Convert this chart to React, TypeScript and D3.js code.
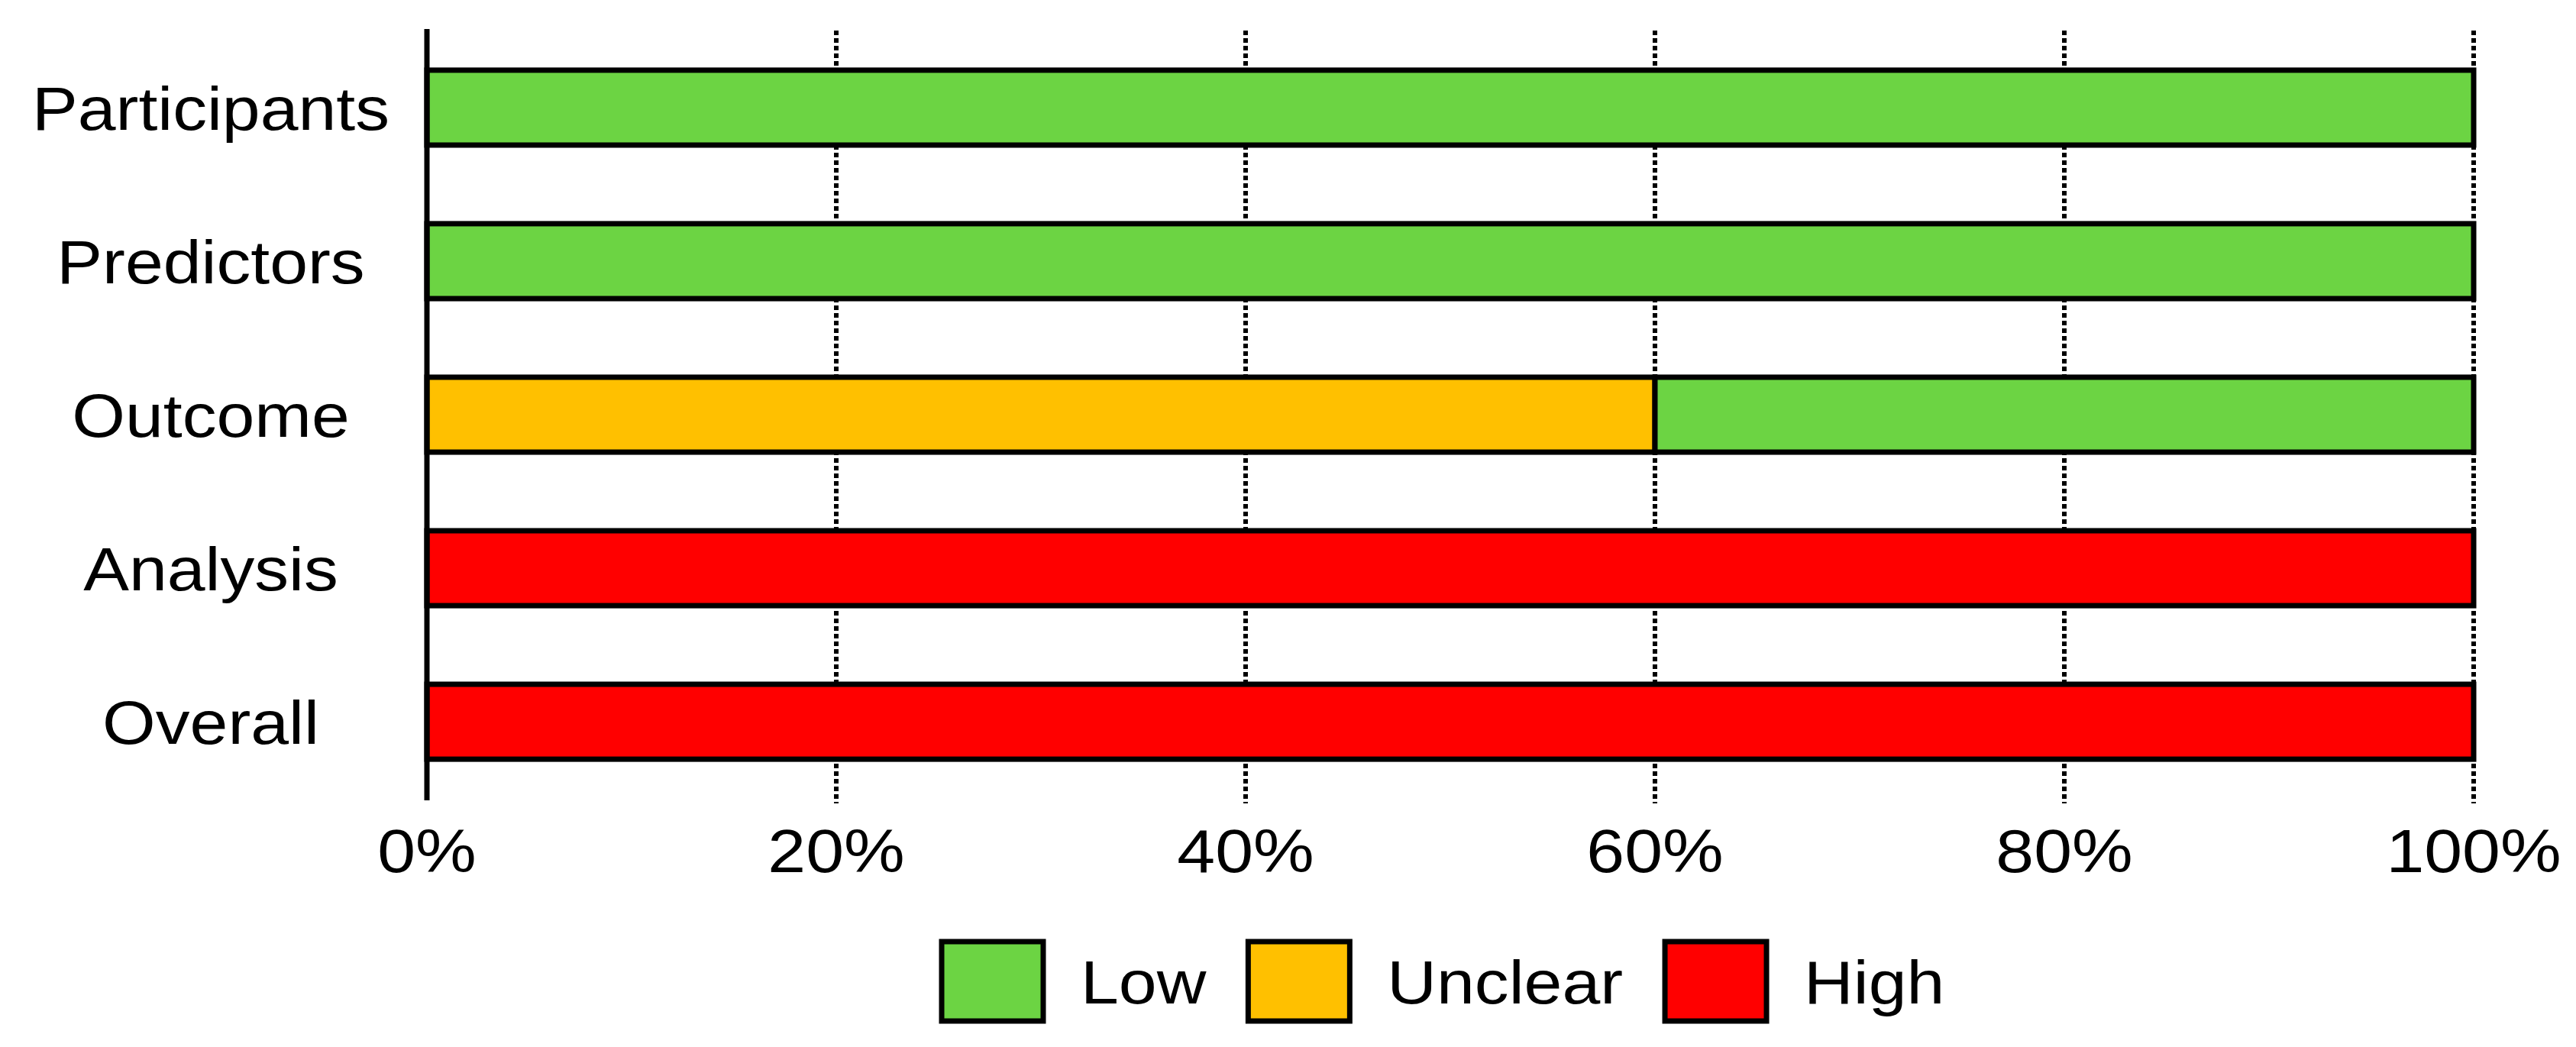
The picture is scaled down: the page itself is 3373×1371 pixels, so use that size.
import React, { useEffect, useRef } from "react";
import * as d3 from "d3";

const categories = ["Participants", "Predictors", "Outcome", "Analysis", "Overall"];
const lowValues = [100, 100, 40, 0, 0];
const unclearValues = [0, 0, 60, 0, 0];
const highValues = [0, 0, 0, 100, 100];
const seriesKeys = ["High", "Unclear", "Low"];
const legendKeys = ["Low", "Unclear", "High"];
const xTicks = [0, 20, 40, 60, 80, 100];
const gridTicks = [20, 40, 60, 80, 100];

const colors: Record<string, string> = {
  Low: "#6cd443",
  Unclear: "#ffc000",
  High: "#ff0000",
};

const W = 3373;
const H = 1371;
const FONT = "'Liberation Sans', Arial, Helvetica, sans-serif";
const FS = 80;
const SX = 1.12;

export default function App() {
  const ref = useRef<SVGSVGElement | null>(null);

  useEffect(() => {
    document.body.style.margin = "0";
    const svg = d3.select(ref.current);
    svg.selectAll("*").remove();

    const rows = categories.map((c, i) => ({
      cat: c,
      Low: lowValues[i],
      Unclear: unclearValues[i],
      High: highValues[i],
    }));

    const x = d3.scaleLinear().domain([0, 100]).range([559, 3239]);
    const y = d3
      .scaleBand<string>()
      .domain(categories)
      .range([38, 1048])
      .paddingInner(0.512)
      .paddingOuter(0.268);

    // grid lines
    svg
      .append("g")
      .selectAll("line")
      .data(gridTicks)
      .join("line")
      .attr("x1", (d) => x(d))
      .attr("x2", (d) => x(d))
      .attr("y1", 40)
      .attr("y2", 1052)
      .attr("stroke", "#000")
      .attr("stroke-width", 6)
      .attr("stroke-dasharray", "6 4");

    const stack = d3.stack<any>().keys(seriesKeys);
    const layers = stack(rows as any);

    const gBars = svg.append("g");
    layers.forEach((layer) => {
      gBars
        .append("g")
        .selectAll("rect")
        .data(layer.filter((d) => d[1] - d[0] > 0))
        .join("rect")
        .attr("x", (d) => x(d[0]))
        .attr("width", (d) => x(d[1]) - x(d[0]))
        .attr("y", (d) => y((d.data as any).cat)!)
        .attr("height", y.bandwidth())
        .attr("fill", colors[layer.key])
        .attr("stroke", "#000")
        .attr("stroke-width", 7);
    });

    // y axis line
    svg
      .append("line")
      .attr("x1", x(0))
      .attr("x2", x(0))
      .attr("y1", 38)
      .attr("y2", 1048)
      .attr("stroke", "#000")
      .attr("stroke-width", 7);

    // category labels
    svg
      .append("g")
      .selectAll("g")
      .data(categories)
      .join("g")
      .attr(
        "transform",
        (d) => `translate(276,${y(d)! + y.bandwidth() / 2 + FS * 0.358}) scale(${SX},1)`
      )
      .append("text")
      .attr("text-anchor", "middle")
      .attr("font-family", FONT)
      .attr("font-size", FS)
      .attr("fill", "#000")
      .text((d) => d);

    // x tick labels
    svg
      .append("g")
      .selectAll("g")
      .data(xTicks)
      .join("g")
      .attr("transform", (d) => `translate(${x(d)},1142) scale(${SX},1)`)
      .append("text")
      .attr("text-anchor", "middle")
      .attr("font-family", FONT)
      .attr("font-size", FS)
      .attr("fill", "#000")
      .text((d) => `${d}%`);

    // legend
    const boxW = 133;
    const boxH = 104;
    const boxY = 1233;
    let cx = 1233;
    const gLeg = svg.append("g");
    legendKeys.forEach((k) => {
      gLeg
        .append("rect")
        .attr("x", cx)
        .attr("y", boxY)
        .attr("width", boxW)
        .attr("height", boxH)
        .attr("fill", colors[k])
        .attr("stroke", "#000")
        .attr("stroke-width", 7);
      const tx = cx + boxW + 49;
      const t = gLeg
        .append("g")
        .attr("transform", `translate(${tx},${boxY + boxH / 2 + FS * 0.358}) scale(${SX},1)`)
        .append("text")
        .attr("font-family", FONT)
        .attr("font-size", FS)
        .attr("fill", "#000")
        .text(k);
      const len = (t.node() as SVGTextElement).getComputedTextLength() * SX;
      cx = tx + len + 55;
    });
  }, []);

  return (
    <svg
      ref={ref}
      width={W}
      height={H}
      viewBox={`0 0 ${W} ${H}`}
      style={{ display: "block", background: "#fff" }}
    />
  );
}
